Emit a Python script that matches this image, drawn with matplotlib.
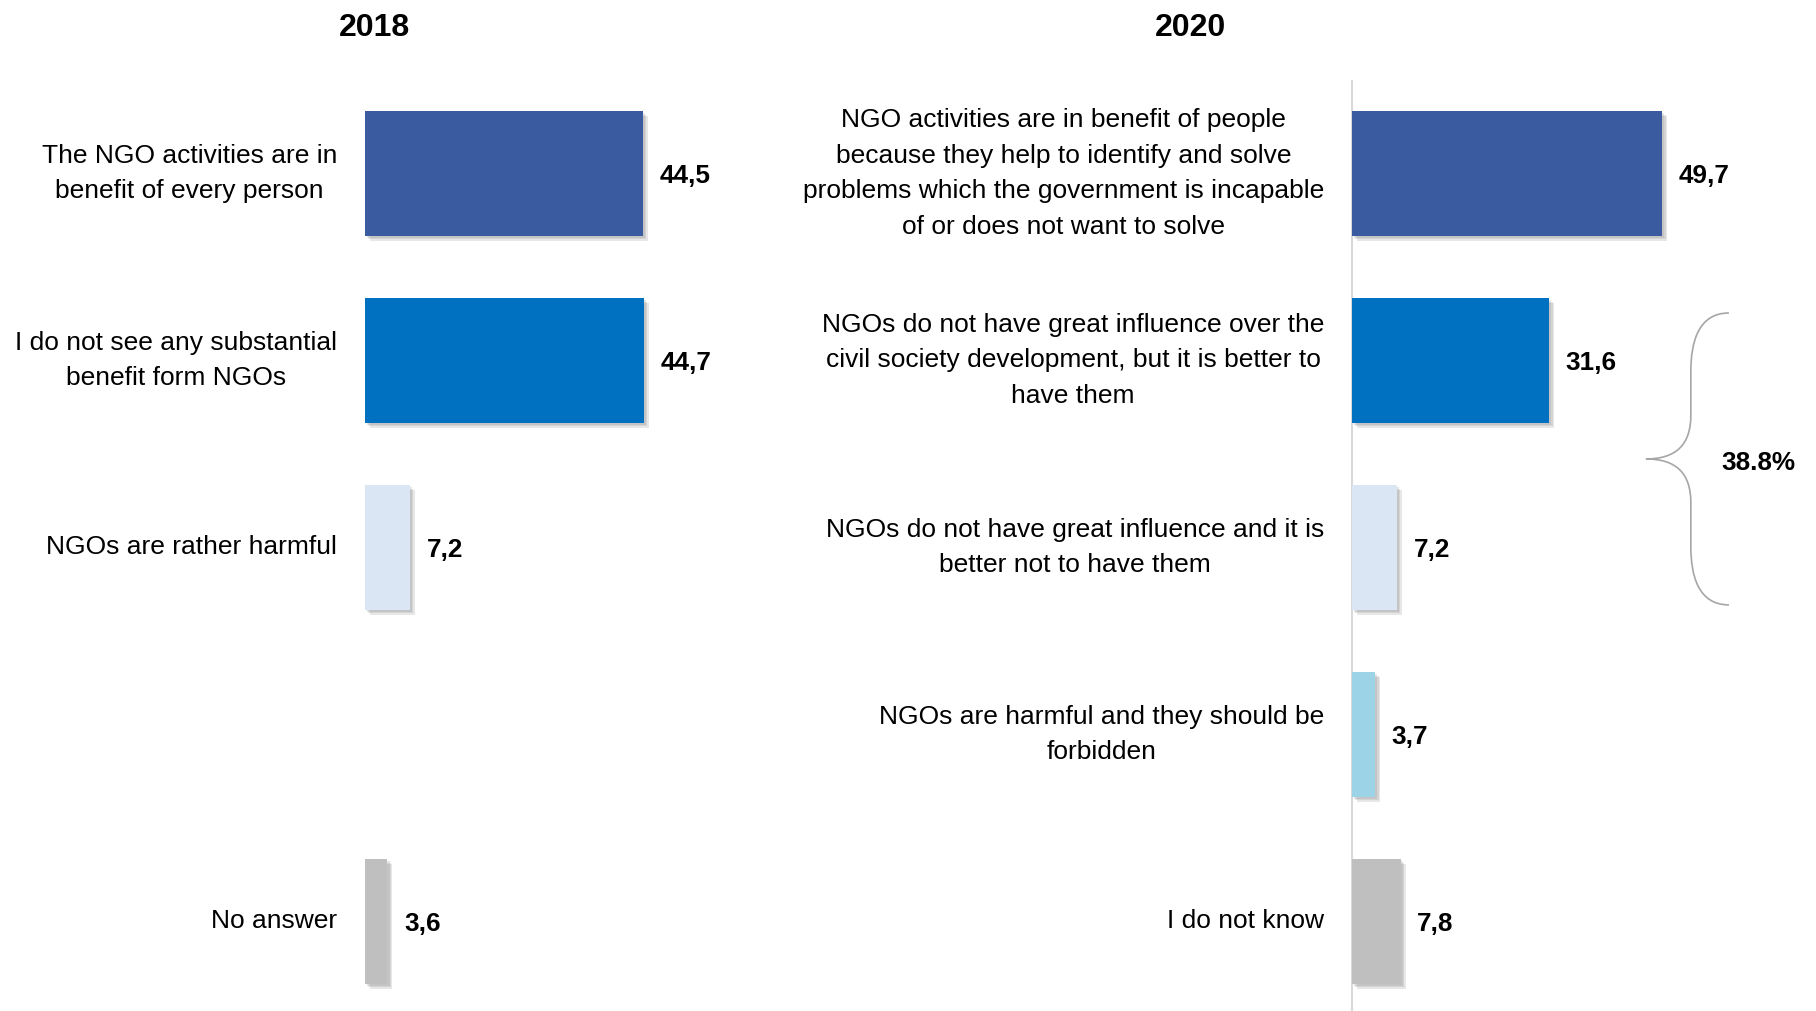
import matplotlib.pyplot as plt
import matplotlib.patheffects as pe
from matplotlib.path import Path
from matplotlib.patches import PathPatch

plt.rcParams['font.family'] = ['Liberation Sans', 'DejaVu Sans']

# 2018 survey
labels_2018 = [
    "The NGO activities are in\nbenefit of every person",
    "I do not see any substantial\nbenefit form NGOs",
    "NGOs are rather harmful",
    "",
    "No answer",
]
values_2018 = [44.5, 44.7, 7.2, None, 3.6]

# 2020 survey
labels_2020 = [
    "NGO activities are in benefit of people\nbecause they help to identify and solve\n"
    "problems which the government is incapable\nof or does not want to solve",
    "NGOs do not have great influence over the\ncivil society development, but it is better to\nhave them",
    "NGOs do not have great influence and it is\nbetter not to have them",
    "NGOs are harmful and they should be\nforbidden",
    "I do not know",
]
values_2020 = [49.7, 31.6, 7.2, 3.7, 7.8]

colors = ["#3A5BA0", "#0070C0", "#DAE6F3", "#9DD3E6", "#BFBFBF"]

# rows grouped by the brace on the 2020 side
brace_rows = [1, 2]

W, H = 1816, 1011
fig = plt.figure(figsize=(W / 100, H / 100), dpi=100)

px_per_unit = 6.24
row_pitch = 187.0
first_row = 173.5
top_px = 81
ylim = ((H - first_row) / row_pitch, (top_px - first_row) / row_pitch)
ax_h = (H - top_px) / H

shadow = [pe.SimplePatchShadow(offset=(d, -d), shadow_rgbFace="#7f7f7f", alpha=0.18)
          for d in (1.5, 2.5, 3.5)] + [pe.Normal()]


def draw_panel(ax, labels, values):
    for i, (lab, v) in enumerate(zip(labels, values)):
        if v is None:
            continue
        ax.barh(i, v, height=0.668, color=colors[i], path_effects=shadow, zorder=3)
        ax.annotate(f"{v:.1f}".replace(".", ","), (v, i), xytext=(12, -1.5),
                    textcoords="offset points", ha="left", va="center",
                    fontsize=18.8, fontweight="bold", annotation_clip=False)
        ax.annotate(lab, (0, i), xytext=(-20, 0), textcoords="offset points",
                    ha="right", va="center", multialignment="center",
                    fontsize=19, linespacing=1.62, annotation_clip=False)
    ax.set_ylim(*ylim)
    ax.set_xticks([])
    ax.set_yticks([])
    for s in ax.spines.values():
        s.set_visible(False)


ax1 = fig.add_axes([365 / W, 0, 55 * px_per_unit / W, ax_h])
ax1.set_xlim(0, 55)
draw_panel(ax1, labels_2018, values_2018)

ax2 = fig.add_axes([1352 / W, 0, 74 * px_per_unit / W, ax_h])
ax2.set_xlim(0, 74)
draw_panel(ax2, labels_2020, values_2020)
ax2.spines["left"].set_visible(True)
ax2.spines["left"].set_color("#D9D9D9")
ax2.spines["left"].set_linewidth(1.5)

# curly brace around the grouped rows
y0 = brace_rows[0] - 0.254
y1 = brace_rows[-1] + 0.307
ym = (y0 + y1) / 2
xe, xs, xt = 60.4, 54.3, 47.1
h = ym - y0
verts = [
    (xe, y0), (xs + 1.2, y0), (xs, y0 + 0.2 * h), (xs, y0 + 0.4 * h),
    (xs, y0 + 0.7 * h),
    (xs, y0 + 0.9 * h), (xs - 2.3, ym), (xt, ym),
    (xs - 2.3, ym), (xs, ym + 0.1 * h), (xs, ym + 0.3 * h),
    (xs, ym + 0.6 * h),
    (xs, ym + 0.8 * h), (xs + 1.2, y1), (xe, y1),
]
codes = [Path.MOVETO, Path.CURVE4, Path.CURVE4, Path.CURVE4,
         Path.LINETO,
         Path.CURVE4, Path.CURVE4, Path.CURVE4,
         Path.CURVE4, Path.CURVE4, Path.CURVE4,
         Path.LINETO,
         Path.CURVE4, Path.CURVE4, Path.CURVE4]
ax2.add_patch(PathPatch(Path(verts, codes), fill=False, edgecolor="#A6A6A6",
                        lw=1.2, clip_on=False))
group_total = sum(values_2020[r] for r in brace_rows)
ax2.annotate(f"{group_total:.1f}%", (65.1, ym), xytext=(0, -3), textcoords="offset points",
             ha="center", va="center", fontsize=18.8, fontweight="bold",
             annotation_clip=False)

fig.text(374 / W, 1 - 28 / H, "2018", ha="center", va="center", fontsize=23, fontweight="bold")
fig.text(1190 / W, 1 - 28 / H, "2020", ha="center", va="center", fontsize=23, fontweight="bold")

fig.savefig("out.png", dpi=100, facecolor="white")
